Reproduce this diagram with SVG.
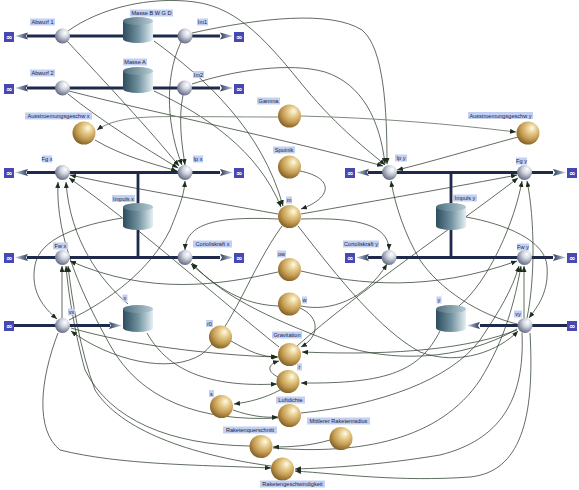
<svg xmlns="http://www.w3.org/2000/svg" width="579" height="490" viewBox="0 0 579 490">
<defs>
<radialGradient id="gBall" cx="0.6" cy="0.35" r="0.75" fx="0.68" fy="0.28">
<stop offset="0" stop-color="#fffbea"/><stop offset="0.25" stop-color="#ead296"/><stop offset="0.6" stop-color="#c49c52"/><stop offset="1" stop-color="#6e4e1a"/>
</radialGradient>
<radialGradient id="gValve" cx="0.6" cy="0.35" r="0.75" fx="0.68" fy="0.28">
<stop offset="0" stop-color="#ffffff"/><stop offset="0.35" stop-color="#d4d8e2"/><stop offset="1" stop-color="#4e5670"/>
</radialGradient>
<linearGradient id="gCyl" x1="0" y1="0" x2="1" y2="0">
<stop offset="0" stop-color="#2e4c5c"/><stop offset="0.5" stop-color="#6f909e"/><stop offset="1" stop-color="#e4eff3"/>
</linearGradient>
<linearGradient id="gCylTop" x1="0" y1="0" x2="1" y2="0">
<stop offset="0" stop-color="#4e6e7e"/><stop offset="1" stop-color="#b6ccd4"/>
</linearGradient>
<linearGradient id="gArrL" x1="0" y1="0" x2="1" y2="0">
<stop offset="0" stop-color="#c8d2e0"/><stop offset="1" stop-color="#2a3a5a"/>
</linearGradient>
<linearGradient id="gArrR" x1="0" y1="0" x2="1" y2="0">
<stop offset="0" stop-color="#2a3a5a"/><stop offset="1" stop-color="#c8d2e0"/>
</linearGradient>
<marker id="ar" markerUnits="userSpaceOnUse" markerWidth="6" markerHeight="5" refX="6" refY="2.5" orient="auto">
<path d="M0,0 L6,2.5 L0,5 Z" fill="#1e2e1e"/>
</marker>
<path id="ahL" d="M0,0 L13,-3.5 L11,0 L13,3.5 Z" fill="url(#gArrL)"/>
<path id="ahR" d="M0,0 L-13,-3.5 L-11,0 L-13,3.5 Z" fill="url(#gArrR)"/>
</defs>
<style>
.pipe{stroke:#1e2a4c;stroke-width:2.8;fill:none}
.ball{fill:url(#gBall)}
.valve{fill:url(#gValve)}
.cyl{fill:url(#gCyl)}
.cylt{fill:url(#gCylTop)}
.inf rect{fill:#4848b4}
.inf text{fill:#ffffff;font-family:"DejaVu Sans",sans-serif;font-size:8px;text-anchor:middle;font-weight:bold}
.lb rect{fill:#c2d0f4}
.lb text{fill:#1a1e3a;font-family:"Liberation Sans",Arial,sans-serif;font-size:5.6px;text-anchor:middle}
.c{fill:none;stroke:#2c3c2c;stroke-width:0.75;marker-end:url(#ar)}
.cg{fill:none;stroke:#7e8a7e;stroke-width:1;marker-end:url(#ar)}
</style>
<rect width="579" height="490" fill="#ffffff"/>

<!-- pipes -->
<g id="pipes">
<path class="pipe" d="M27,36 H123 M153,36 H220"/>
<path class="pipe" d="M27,88 H123 M153,88 H220"/>
<path class="pipe" d="M27,172.5 H220 M138,172.5 V203 M138,230 V257.5 M27,257.5 H220"/>
<path class="pipe" d="M368,172.5 H553 M451,172.5 V203 M451,230 V257.5 M368,257.5 H553"/>
<path class="pipe" d="M14,325.5 H110 M480,325.5 H568"/>
<use href="#ahL" x="15" y="36"/><use href="#ahR" x="233" y="36"/>
<use href="#ahL" x="15" y="88"/><use href="#ahR" x="233" y="88"/>
<use href="#ahL" x="15" y="172.5"/><use href="#ahR" x="233" y="172.5"/>
<use href="#ahL" x="15" y="257.5"/><use href="#ahR" x="233" y="257.5"/>
<use href="#ahL" x="356" y="172.5"/><use href="#ahR" x="566" y="172.5"/>
<use href="#ahL" x="356" y="257.5"/><use href="#ahR" x="566" y="257.5"/>
<use href="#ahR" x="122" y="325.5"/><use href="#ahL" x="467" y="325.5"/>
</g>

<!-- connectors -->
<g id="connectors">
<path class="c" d="M68,31 C100,8 150,-4 195,2 C240,8 270,45 305,88 C340,130 368,150 385,165"/>
<path class="c" d="M192,33 C260,18 330,10 362,30 C384,48 387,110 387,164"/>
<path class="c" d="M192,84 C235,70 290,62 325,72 C362,84 380,120 385,164"/>
<path class="c" d="M69,91 C150,112 290,140 383,166"/>
<path class="c" d="M154,41 C205,78 262,130 283,206"/>
<path class="c" d="M154,91 C205,115 258,150 281,207"/>
<path class="c" d="M67,41 C105,82 150,130 179,166"/>
<path class="c" d="M181,42 C163,80 168,130 182,165"/>
<path class="c" d="M183,95 C178,120 182,145 185,165"/>
<path class="c" d="M68,94 C100,120 145,148 178,168"/>
<path class="c" d="M95,140 C122,156 150,163 177,171"/>
<path class="cg" d="M278,117 C220,117 170,116 150,117 C125,118 108,122 97,130"/>
<path class="cg" d="M301,116 C380,118 450,124 516,132"/>
<path class="c" d="M518,137 C470,150 430,162 397,170"/>
<path class="c" d="M300,171 C335,178 332,198 301,209"/>
<path class="c" d="M278,214 C200,200 120,186 70,175"/>
<path class="c" d="M301,214 C380,200 460,186 517,175"/>
<path class="c" d="M278,219 C215,216 186,224 185,250"/>
<path class="c" d="M301,219 C360,217 389,226 389,250"/>
<path class="c" d="M122,218 C80,225 40,238 35,265 C30,292 44,308 57,319"/>
<path class="c" d="M466,217 C505,224 545,240 547,266 C549,292 538,306 529,318"/>
<path class="c" d="M62,318 L62,266"/>
<path class="c" d="M58,333 C40,380 35,430 60,450 C120,465 200,465 271,468"/>
<path class="c" d="M71,328 C130,345 210,355 277,357"/>
<path class="c" d="M282,226 C250,270 232,330 202,354 C170,375 110,360 71,331"/>
<path class="c" d="M69,320 C110,300 150,270 170,230 C180,205 184,195 185,181"/>
<path class="c" d="M128,304 C100,280 70,240 66,182"/>
<path class="c" d="M278,418 C200,422 140,400 110,345 C85,300 55,240 58,182"/>
<path class="c" d="M279,347 C220,300 130,220 69,178"/>
<path class="c" d="M278,272 C220,285 150,296 70,261"/>
<path class="c" d="M279,306 C250,305 225,295 191,264"/>
<path class="c" d="M250,446 C170,445 110,420 85,370 C74,330 68,290 66,266"/>
<path class="c" d="M271,466 C190,455 120,430 95,390 C80,350 72,300 68,266"/>
<path class="c" d="M147,333 C165,365 200,388 277,384"/>
<path class="c" d="M231,341 C250,352 262,357 278,357"/>
<path class="c" d="M278,377 C266,371 268,364 279,361"/>
<path class="c" d="M280,390 C265,398 250,402 234,404"/>
<path class="c" d="M233,410 C250,416 265,418 278,417"/>
<path class="c" d="M330,440 C310,446 290,447 273,447"/>
<path class="c" d="M300,308 C322,318 318,338 301,347"/>
<path class="c" d="M524,318 L524,266"/>
<path class="c" d="M301,271 C360,285 430,292 517,261"/>
<path class="c" d="M301,306 C330,312 365,300 387,264"/>
<path class="c" d="M517,329 C460,362 390,362 340,345 C280,322 225,300 192,263"/>
<path class="c" d="M298,226 C340,280 380,330 420,352 C460,367 500,350 518,331"/>
<path class="c" d="M517,324 C480,315 440,290 420,260 C405,235 395,205 391,181"/>
<path class="c" d="M459,306 C490,280 515,220 522,181"/>
<path class="c" d="M297,346 C360,290 450,230 518,178"/>
<path class="c" d="M527,318 C535,280 535,220 527,181"/>
<path class="c" d="M440,331 C420,370 390,384 301,383"/>
<path class="c" d="M517,330 C470,348 400,356 302,352"/>
<path class="c" d="M522,333 C525,400 500,440 440,455 C380,465 330,468 295,469"/>
<path class="c" d="M530,333 C535,420 520,472 470,477 C400,482 340,474 295,471"/>
<path class="c" d="M301,413 C380,405 450,380 480,340 C500,310 512,290 519,266"/>
<path class="c" d="M273,448 C360,455 440,440 480,380 C505,340 515,300 521,266"/>
</g>

<!-- clouds -->
<g id="cloud1" class="inf"><rect x="4" y="32" width="10" height="10"/><text x="9" y="40">∞</text></g>
<g id="cloud2" class="inf"><rect x="234" y="32" width="10" height="10"/><text x="239" y="40">∞</text></g>
<g id="cloud3" class="inf"><rect x="4" y="84" width="10" height="10"/><text x="9" y="92">∞</text></g>
<g id="cloud4" class="inf"><rect x="234" y="84" width="10" height="10"/><text x="239" y="92">∞</text></g>
<g id="cloud5" class="inf"><rect x="4" y="168" width="10" height="10"/><text x="9" y="176">∞</text></g>
<g id="cloud6" class="inf"><rect x="234" y="168" width="10" height="10"/><text x="239" y="176">∞</text></g>
<g id="cloud7" class="inf"><rect x="4" y="253" width="10" height="10"/><text x="9" y="261">∞</text></g>
<g id="cloud8" class="inf"><rect x="234" y="253" width="10" height="10"/><text x="239" y="261">∞</text></g>
<g id="cloud9" class="inf"><rect x="345" y="168" width="10" height="10"/><text x="350" y="176">∞</text></g>
<g id="cloud10" class="inf"><rect x="567" y="168" width="10" height="10"/><text x="572" y="176">∞</text></g>
<g id="cloud11" class="inf"><rect x="345" y="253" width="10" height="10"/><text x="350" y="261">∞</text></g>
<g id="cloud12" class="inf"><rect x="567" y="253" width="10" height="10"/><text x="572" y="261">∞</text></g>
<g id="cloud13" class="inf"><rect x="4" y="321" width="10" height="10"/><text x="9" y="329">∞</text></g>
<g id="cloud14" class="inf"><rect x="567" y="321" width="10" height="10"/><text x="572" y="329">∞</text></g>

<!-- stocks -->
<g id="MasseBWGD"><path class="cyl" d="M123,21 V39 A15,4 0 0 0 153,39 V21 Z"/><ellipse class="cylt" cx="138" cy="21" rx="15" ry="4"/>
<g class="lb"><rect x="130" y="9.5" width="43" height="7"/><text x="151.5" y="15">Masse B W G D</text></g></g>
<g id="MasseA"><path class="cyl" d="M123,71 V89 A15,4 0 0 0 153,89 V71 Z"/><ellipse class="cylt" cx="138" cy="71" rx="15" ry="4"/>
<g class="lb"><rect x="123" y="58.5" width="24" height="7"/><text x="135" y="64">Masse A</text></g></g>
<g id="Impulsx"><path class="cyl" d="M123,207 V226 A15,4 0 0 0 153,226 V207 Z"/><ellipse class="cylt" cx="138" cy="207" rx="15" ry="4"/>
<g class="lb"><rect x="112" y="195" width="23" height="7"/><text x="123.5" y="200.5">Impuls x</text></g></g>
<g id="Impulsy"><path class="cyl" d="M436,207 V226 A15,4 0 0 0 466,226 V207 Z"/><ellipse class="cylt" cx="451" cy="207" rx="15" ry="4"/>
<g class="lb"><rect x="453" y="194.5" width="24" height="7"/><text x="465" y="200">Impuls y</text></g></g>
<g id="x"><path class="cyl" d="M123,309 V328 A15,4 0 0 0 153,328 V309 Z"/><ellipse class="cylt" cx="138" cy="309" rx="15" ry="4"/>
<g class="lb"><rect x="122.5" y="294.5" width="5" height="7"/><text x="125" y="300">x</text></g></g>
<g id="y"><path class="cyl" d="M436,309 V328 A15,4 0 0 0 466,328 V309 Z"/><ellipse class="cylt" cx="451" cy="309" rx="15" ry="4"/>
<g class="lb"><rect x="436.5" y="296.5" width="5" height="7"/><text x="439" y="302">y</text></g></g>

<!-- valves -->
<g id="Abwurf1"><circle class="valve" cx="62.5" cy="36" r="7.5"/><g class="lb"><rect x="30" y="18.5" width="25" height="7"/><text x="42.5" y="24">Abwurf 1</text></g></g>
<g id="Im1"><circle class="valve" cx="185" cy="36" r="7.5"/><g class="lb"><rect x="197" y="18.5" width="11" height="7"/><text x="202.5" y="24">Im1</text></g></g>
<g id="Abwurf2"><circle class="valve" cx="62.5" cy="88" r="7.5"/><g class="lb"><rect x="30" y="69.5" width="25" height="7"/><text x="42.5" y="75">Abwurf 2</text></g></g>
<g id="Im2"><circle class="valve" cx="184.5" cy="88" r="7.5"/><g class="lb"><rect x="193" y="71" width="11" height="7"/><text x="198.5" y="76.5">Im2</text></g></g>
<g id="Fgx"><circle class="valve" cx="62.5" cy="172.5" r="7.5"/><g class="lb"><rect x="42" y="155.5" width="10" height="7"/><text x="47" y="161">Fg x</text></g></g>
<g id="Ipx"><circle class="valve" cx="185" cy="172.5" r="7.5"/><g class="lb"><rect x="193" y="155.5" width="10" height="7"/><text x="198" y="161">Ip x</text></g></g>
<g id="Fwx"><circle class="valve" cx="62.5" cy="257.5" r="7.5"/><g class="lb"><rect x="53" y="242.5" width="15" height="7"/><text x="60.5" y="248">Fw x</text></g></g>
<g id="Coriolisx"><circle class="valve" cx="185" cy="257.5" r="7.5"/><g class="lb"><rect x="193" y="240.5" width="39" height="7"/><text x="212.5" y="246">Corioliskraft x</text></g></g>
<g id="Ipy"><circle class="valve" cx="389.5" cy="172.5" r="7.5"/><g class="lb"><rect x="395" y="154.5" width="12" height="7"/><text x="401" y="160">Ip y</text></g></g>
<g id="Fgy"><circle class="valve" cx="524.5" cy="172.5" r="7.5"/><g class="lb"><rect x="516" y="157.5" width="11" height="7"/><text x="521.5" y="163">Fg y</text></g></g>
<g id="Coriolisy"><circle class="valve" cx="389" cy="257.5" r="7.5"/><g class="lb"><rect x="343" y="240.5" width="36" height="7"/><text x="361" y="246">Corioliskraft y</text></g></g>
<g id="Fwy"><circle class="valve" cx="524.5" cy="257.5" r="7.5"/><g class="lb"><rect x="517" y="243.5" width="12" height="7"/><text x="523" y="249">Fw y</text></g></g>
<g id="vx"><circle class="valve" cx="62.5" cy="325.5" r="7.5"/><g class="lb"><rect x="68" y="308.5" width="7" height="7"/><text x="71.5" y="314">vx</text></g></g>
<g id="vy"><circle class="valve" cx="525" cy="325.5" r="7.5"/><g class="lb"><rect x="514" y="310.5" width="8" height="7"/><text x="518" y="316">vy</text></g></g>

<!-- auxiliaries -->
<g id="Gamma"><circle class="ball" cx="289.5" cy="116" r="11.5"/><g class="lb"><rect x="257" y="97.5" width="23" height="7"/><text x="268.5" y="103">Gamma</text></g></g>
<g id="AusstrX"><circle class="ball" cx="84" cy="133" r="11.5"/><g class="lb"><rect x="25" y="112.5" width="67" height="7"/><text x="58.5" y="118">Ausstroemungsgeschw x</text></g></g>
<g id="AusstrY"><circle class="ball" cx="528" cy="133" r="11.5"/><g class="lb"><rect x="468" y="112" width="65" height="7"/><text x="500.5" y="117.5">Ausstroemungsgeschw y</text></g></g>
<g id="Sputnik"><circle class="ball" cx="289.5" cy="167" r="11.5"/><g class="lb"><rect x="273" y="146.5" width="22" height="7"/><text x="284" y="152">Sputnik</text></g></g>
<g id="m"><circle class="ball" cx="289.5" cy="216.5" r="11.5"/><g class="lb"><rect x="286" y="196.5" width="6" height="7"/><text x="289" y="202">m</text></g></g>
<g id="ow"><circle class="ball" cx="289.5" cy="269.5" r="11.5"/><g class="lb"><rect x="277" y="250.5" width="9" height="7"/><text x="281.5" y="256">ow</text></g></g>
<g id="w"><circle class="ball" cx="289.5" cy="304" r="11.5"/><g class="lb"><rect x="302" y="296.5" width="5" height="7"/><text x="304.5" y="302">w</text></g></g>
<g id="r0"><circle class="ball" cx="220.5" cy="337" r="11.5"/><g class="lb"><rect x="206" y="320" width="7" height="7"/><text x="209.5" y="325.5">r0</text></g></g>
<g id="Gravitation"><circle class="ball" cx="289.5" cy="354.5" r="11.5"/><g class="lb"><rect x="272" y="331.5" width="30" height="7"/><text x="287" y="337">Gravitation</text></g></g>
<g id="r"><circle class="ball" cx="288" cy="381.5" r="11.5"/><g class="lb"><rect x="297" y="363.5" width="5" height="7"/><text x="299.5" y="369">r</text></g></g>
<g id="s"><circle class="ball" cx="221.5" cy="406.5" r="11.5"/><g class="lb"><rect x="209" y="390" width="5" height="7"/><text x="211.5" y="395.5">s</text></g></g>
<g id="Luftdichte"><circle class="ball" cx="289.5" cy="415.5" r="11.5"/><g class="lb"><rect x="276" y="396.5" width="29" height="7"/><text x="290.5" y="402">Luftdichte</text></g></g>
<g id="Raketenquerschnitt"><circle class="ball" cx="261" cy="446.5" r="11.5"/><g class="lb"><rect x="223" y="426.5" width="54" height="7"/><text x="250" y="432">Raketenquerschnitt</text></g></g>
<g id="MittlererRaketenradius"><circle class="ball" cx="341" cy="438.5" r="11.5"/><g class="lb"><rect x="307" y="417.5" width="63" height="7"/><text x="338.5" y="423">Mittlerer Raketenradius</text></g></g>
<g id="Raketengeschwindigkeit"><circle class="ball" cx="282.5" cy="469" r="11.5"/><g class="lb"><rect x="260" y="480.5" width="65" height="7"/><text x="292.5" y="486">Raketengeschwindigkeit</text></g></g>
</svg>
